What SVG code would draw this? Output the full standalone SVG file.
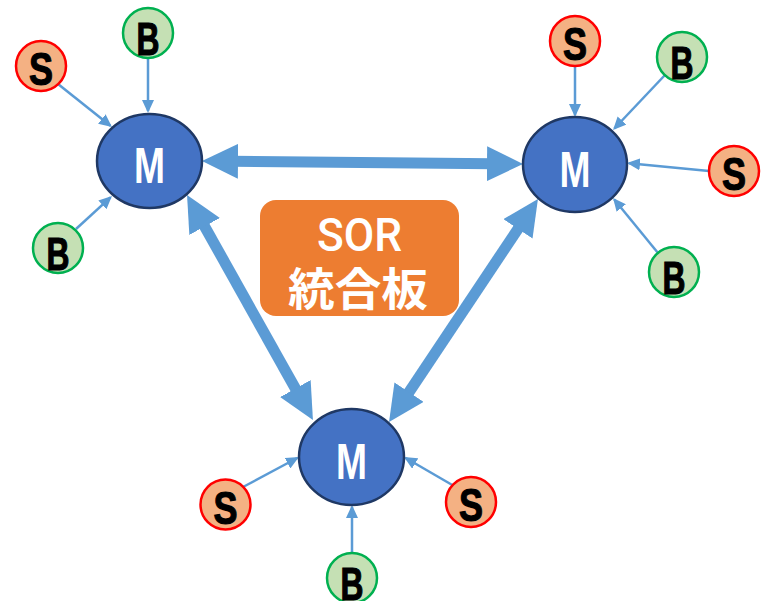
<svg xmlns="http://www.w3.org/2000/svg" width="762" height="601" viewBox="0 0 762 601">
  <defs>
    <marker id="bigHead" markerUnits="userSpaceOnUse" markerWidth="36" markerHeight="35" refX="6" refY="17.5" orient="auto-start-reverse" viewBox="0 0 36 35">
      <path d="M0,0 L36,17.5 L0,35 z" fill="#5B9BD5"/>
    </marker>
    <marker id="smallHead" markerUnits="userSpaceOnUse" markerWidth="13" markerHeight="12" refX="11" refY="6" orient="auto" viewBox="0 0 13 12">
      <path d="M0,0 L13,6 L0,12 z" fill="#5B9BD5"/>
    </marker>
  </defs>
  <style>
    .big { stroke: #5B9BD5; stroke-width: 11; fill: none; marker-start: url(#bigHead); marker-end: url(#bigHead); }
    .small { stroke: #5B9BD5; stroke-width: 2.5; fill: none; marker-end: url(#smallHead); }
    .m ellipse { fill: #4472C4; stroke: #1F3864; stroke-width: 2.5; }
    .m text { fill: #FFFFFF; font-family: "Liberation Sans", Arial, sans-serif; font-weight: bold; font-size: 50px; text-anchor: middle; }
    .s circle { fill: #F4B183; stroke: #FF0000; stroke-width: 2.5; }
    .b circle { fill: #C5E0B4; stroke: #00B050; stroke-width: 2.5; }
    .s text, .b text { fill: #000000; stroke: #000000; stroke-width: 1.2; font-family: "Liberation Sans", Arial, sans-serif; font-weight: bold; font-size: 46px; text-anchor: middle; }
    .title text { fill: #FFFFFF; text-anchor: middle; }
  </style>

  <!-- connectors -->
  <g id="connectors">
    <line class="big" x1="232" y1="161.3" x2="493" y2="163.7"/>
    <line class="big" x1="201.7" y1="221.2" x2="298.3" y2="393.8"/>
    <line class="big" x1="521.3" y1="223.9" x2="405.7" y2="397.1"/>

    <line class="small" x1="58" y1="84" x2="110.4" y2="125.8"/>
    <line class="small" x1="148" y1="58" x2="148" y2="111"/>
    <line class="small" x1="76" y1="229" x2="110.5" y2="197.4"/>

    <line class="small" x1="575" y1="66" x2="575" y2="115"/>
    <line class="small" x1="665" y1="75" x2="614.4" y2="128.5"/>
    <line class="small" x1="709" y1="171" x2="629" y2="163.2"/>
    <line class="small" x1="658" y1="253" x2="614.3" y2="199.5"/>

    <line class="small" x1="243" y1="487" x2="297.2" y2="458"/>
    <line class="small" x1="454" y1="486" x2="405.7" y2="458"/>
    <line class="small" x1="352" y1="553" x2="352" y2="507"/>
  </g>

  <!-- centre label -->
  <g id="sor" class="title">
    <rect x="260" y="200" width="199" height="116" rx="16" ry="16" fill="#ED7D31"/>
    <text x="359.5" y="251" font-family="Roboto, 'Liberation Sans', sans-serif" font-weight="500" font-size="47" textLength="85" lengthAdjust="spacingAndGlyphs">SOR</text>
    <text x="358" y="306" font-family="'Noto Sans CJK JP', 'Noto Sans CJK SC', sans-serif" font-weight="bold" font-size="45" textLength="140" lengthAdjust="spacingAndGlyphs">統合板</text>
  </g>

  <!-- M nodes -->
  <g id="m-left" class="m">
    <ellipse cx="149.5" cy="161" rx="52.5" ry="47"/>
    <text x="149.5" y="183" textLength="31" lengthAdjust="spacingAndGlyphs">M</text>
  </g>
  <g id="m-right" class="m">
    <ellipse cx="575" cy="164.5" rx="52" ry="47.5"/>
    <text x="575" y="186.5" textLength="31" lengthAdjust="spacingAndGlyphs">M</text>
  </g>
  <g id="m-bottom" class="m">
    <ellipse cx="351.5" cy="457" rx="52.5" ry="48"/>
    <text x="351.5" y="479" textLength="31" lengthAdjust="spacingAndGlyphs">M</text>
  </g>

  <!-- S / B nodes around left M -->
  <g id="s-left-1" class="s">
    <circle cx="41" cy="66" r="25"/>
    <text x="41" y="85" textLength="24" lengthAdjust="spacingAndGlyphs">S</text>
  </g>
  <g id="b-left-1" class="b">
    <circle cx="148" cy="33" r="25"/>
    <text x="148" y="55" textLength="23" lengthAdjust="spacingAndGlyphs">B</text>
  </g>
  <g id="b-left-2" class="b">
    <circle cx="58" cy="248" r="25"/>
    <text x="58" y="270" textLength="23" lengthAdjust="spacingAndGlyphs">B</text>
  </g>

  <!-- S / B nodes around right M -->
  <g id="s-right-1" class="s">
    <circle cx="575" cy="41" r="25"/>
    <text x="575" y="60" textLength="24" lengthAdjust="spacingAndGlyphs">S</text>
  </g>
  <g id="b-right-1" class="b">
    <circle cx="682" cy="57" r="25"/>
    <text x="682" y="79" textLength="23" lengthAdjust="spacingAndGlyphs">B</text>
  </g>
  <g id="s-right-2" class="s">
    <circle cx="734" cy="171" r="25"/>
    <text x="734" y="190" textLength="24" lengthAdjust="spacingAndGlyphs">S</text>
  </g>
  <g id="b-right-2" class="b">
    <circle cx="674" cy="272" r="25"/>
    <text x="674" y="294" textLength="23" lengthAdjust="spacingAndGlyphs">B</text>
  </g>

  <!-- S / B nodes around bottom M -->
  <g id="s-bottom-1" class="s">
    <circle cx="225.5" cy="504.5" r="25"/>
    <text x="225.5" y="523.5" textLength="24" lengthAdjust="spacingAndGlyphs">S</text>
  </g>
  <g id="s-bottom-2" class="s">
    <circle cx="471" cy="502" r="25"/>
    <text x="471" y="521" textLength="24" lengthAdjust="spacingAndGlyphs">S</text>
  </g>
  <g id="b-bottom-1" class="b">
    <circle cx="352" cy="578" r="25"/>
    <text x="352" y="600" textLength="23" lengthAdjust="spacingAndGlyphs">B</text>
  </g>
</svg>
